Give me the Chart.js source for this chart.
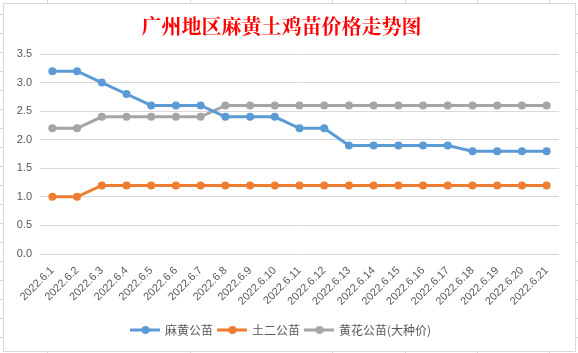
<!DOCTYPE html>
<html>
<head>
<meta charset="utf-8">
<script src="https://cdn.jsdelivr.net/npm/chart.js@4"></script>
<style>
html,body{margin:0;padding:0;background:#fff;}
body{width:578px;height:353px;position:relative;overflow:hidden;
  background-image:linear-gradient(#d6d6de 1px, transparent 1px);
  background-size:100% 19px;background-position:0 14px;}
.col{position:absolute;top:0;width:1px;height:353px;background:#d6d6de;}
#box{position:absolute;left:3px;top:3px;width:573px;height:349px;box-sizing:border-box;
  border:1px solid #d9d9d9;background:#fff;}
#c{display:block;}
</style>
</head>
<body>
<div class="col" style="left:47px"></div>
<div class="col" style="left:190px"></div>
<div class="col" style="left:332px"></div>
<div class="col" style="left:405px"></div>
<div class="col" style="left:477px"></div>
<div class="col" style="left:549px"></div>
<div id="box"><canvas id="c" width="571" height="347"></canvas></div>
<script>
const title = '广州地区麻黄土鸡苗价格走势图';
const categories = ['2022.6.1','2022.6.2','2022.6.3','2022.6.4','2022.6.5','2022.6.6','2022.6.7','2022.6.8','2022.6.9','2022.6.10','2022.6.11','2022.6.12','2022.6.13','2022.6.14','2022.6.15','2022.6.16','2022.6.17','2022.6.18','2022.6.19','2022.6.20','2022.6.21'];
const seriesNames = ['麻黄公苗','土二公苗','黄花公苗(大种价)'];
const mahuang = [3.2,3.2,3.0,2.8,2.6,2.6,2.6,2.4,2.4,2.4,2.2,2.2,1.9,1.9,1.9,1.9,1.9,1.8,1.8,1.8,1.8];
const tuer = [1.0,1.0,1.2,1.2,1.2,1.2,1.2,1.2,1.2,1.2,1.2,1.2,1.2,1.2,1.2,1.2,1.2,1.2,1.2,1.2,1.2];
const huanghua = [2.2,2.2,2.4,2.4,2.4,2.4,2.4,2.6,2.6,2.6,2.6,2.6,2.6,2.6,2.6,2.6,2.6,2.6,2.6,2.6,2.6];
const yTicks = [0,0.5,1.0,1.5,2.0,2.5,3.0,3.5];
const colors = ['#5B9BD5','#ED7D31','#A5A5A5'];

function legendImg(color){
  const cv = document.createElement('canvas');
  cv.width = 30; cv.height = 10;
  const g = cv.getContext('2d');
  g.strokeStyle = color; g.lineWidth = 3;
  g.beginPath(); g.moveTo(0,5); g.lineTo(30,5); g.stroke();
  g.fillStyle = color; g.beginPath(); g.arc(15,5,4,0,Math.PI*2); g.fill();
  return cv;
}
const imgs = colors.map(legendImg);
const values = [mahuang, tuer, huanghua];

new Chart(document.getElementById('c'), {
  type: 'line',
  data: {
    labels: categories,
    datasets: values.map((v,i)=>({
      label: seriesNames[i], data: v,
      borderColor: colors[i], backgroundColor: colors[i],
      borderWidth: 3, pointRadius: 4, pointHoverRadius: 4, pointStyle: 'circle',
      pointBackgroundColor: colors[i], pointBorderColor: colors[i], pointBorderWidth: 0,
      tension: 0
    }))
  },
  options: {
    responsive: false, animation: false,
    layout: {padding: {left: 0, right: 16, top: 0, bottom: 5}},
    plugins: {
      title: {display: true, text: title, color: '#FF0000',
        font: {family: '"Noto Serif CJK SC","Noto Sans CJK SC",serif', size: 20, weight: 'bold'},
        padding: {top: 10, bottom: 16}},
      legend: {position: 'bottom',
        labels: {usePointStyle: true, pointStyleWidth: 27, padding: 6, color: '#595959',
          font: {family: '"Noto Sans CJK SC","Microsoft YaHei",sans-serif', size: 12},
          generateLabels: (chart) => chart.data.datasets.map((d,i)=>({
            text: d.label, pointStyle: imgs[i], fillStyle: colors[i], strokeStyle: colors[i],
            lineWidth: 0, datasetIndex: i, hidden: false, fontColor: '#595959'
          }))
        }},
      tooltip: {enabled: false}
    },
    scales: {
      x: {
        offset: true,
        grid: {display: false, drawTicks: false, offset: true},
        border: {display: false},
        ticks: {color: '#595959', minRotation: 45, maxRotation: 45, autoSkip: false, padding: 10,
          font: {family: '"Liberation Sans",Arial,sans-serif', size: 11}},
        afterFit: (s) => { s.height = 64; }
      },
      y: {
        min: 0, max: 3.5,
        afterBuildTicks: (s) => { s.ticks = yTicks.map(v=>({value:v})); },
        grid: {color: '#d9d9d9', drawTicks: false, lineWidth: 1},
        border: {display: false},
        ticks: {color: '#595959', padding: 8, callback: (v)=>Number(v).toFixed(1),
          font: {family: '"Liberation Sans",Arial,sans-serif', size: 11}},
        afterFit: (s) => { s.width = 36; }
      }
    }
  }
});
</script>
</body>
</html>
